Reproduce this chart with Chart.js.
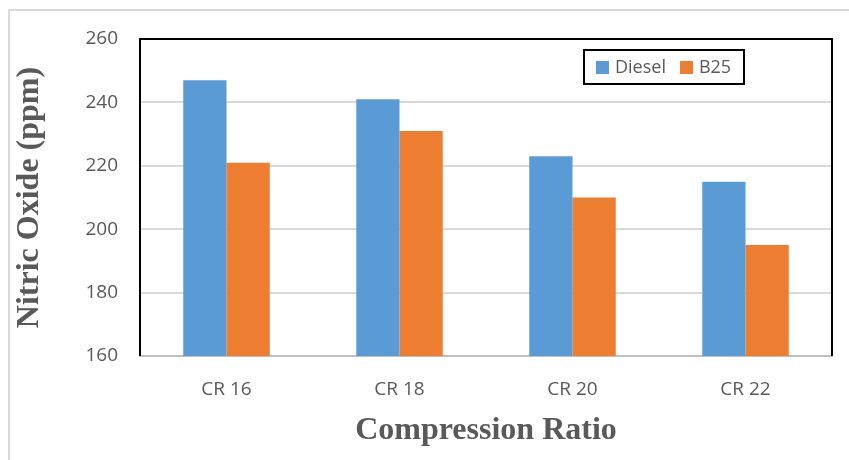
<!DOCTYPE html>
<html>
<head>
<meta charset="utf-8">
<script src="https://cdn.jsdelivr.net/npm/chart.js@4/dist/chart.umd.min.js"></script>
<style>
  html, body { margin: 0; padding: 0; background: #fff; }
  #wrap { width: 849px; height: 460px; position: relative; }
</style>
</head>
<body>
<div id="wrap"><canvas id="noChart"></canvas></div>
<script>
// datos
const categories = ['CR 16', 'CR 18', 'CR 20', 'CR 22'];
const dieselValues = [247, 241, 223, 215];
const b25Values = [221, 231, 210, 195];
const yTicks = [160, 180, 200, 220, 240, 260];

const COLORS = { diesel: '#5b9bd5', b25: '#ed7d31', text: '#595959', grid: '#d9d9d9' };

// marco negro del area de trazado + borde exterior + leyenda con recuadro
const framePlugin = {
    id: 'frame',
    beforeDraw(chart) {
        const { ctx, width, height } = chart;
        ctx.save();
        ctx.fillStyle = '#fff';
        ctx.fillRect(0, 0, width, height);
        ctx.strokeStyle = '#d9d9d9';
        ctx.lineWidth = 2;
        ctx.strokeRect(9, 10, width + 20, height + 20);
        ctx.restore();
    },
    afterDraw(chart) {
        const { ctx, chartArea: a } = chart;
        ctx.save();
        ctx.strokeStyle = '#000';
        ctx.lineWidth = 2;
        ctx.beginPath();
        ctx.moveTo(a.left, a.bottom);
        ctx.lineTo(a.left, a.top);
        ctx.lineTo(a.right, a.top);
        ctx.lineTo(a.right, a.bottom);
        ctx.stroke();

        // leyenda
        const bx = 584, by = 50, bw = 160, bh = 34;
        ctx.lineWidth = 2;
        ctx.strokeRect(bx, by, bw, bh);
        ctx.font = '18px "Open Sans", sans-serif';
        ctx.textBaseline = 'middle';
        ctx.fillStyle = COLORS.text;
        let x = bx + 12;
        const cy = by + bh / 2 + 1;
        chart.data.datasets.forEach(ds => {
            ctx.fillStyle = ds.backgroundColor;
            ctx.fillRect(x, cy - 7, 13, 13);
            ctx.fillStyle = COLORS.text;
            ctx.fillText(ds.label, x + 19, cy);
            x += 19 + ctx.measureText(ds.label).width + 14;
        });
        ctx.restore();
    }
};

new Chart(document.getElementById('noChart').getContext('2d'), {
    type: 'bar',
    plugins: [framePlugin],
    data: {
        labels: categories,
        datasets: [
            { label: 'Diesel', data: dieselValues, backgroundColor: COLORS.diesel, borderWidth: 0 },
            { label: 'B25', data: b25Values, backgroundColor: COLORS.b25, borderWidth: 0 }
        ]
    },
    options: {
        responsive: true,
        maintainAspectRatio: false,
        animation: false,
        categoryPercentage: 0.5,
        barPercentage: 1.0,
        layout: { padding: { top: 39, right: 17, left: 0, bottom: 0 } },
        plugins: { legend: { display: false }, tooltip: { enabled: false } },
        scales: {
            x: {
                grid: { display: false, drawTicks: false },
                border: { color: '#bfbfbf', width: 2 },
                ticks: { color: COLORS.text, font: { family: '"Open Sans", sans-serif', size: 19 }, padding: 22 },
                title: {
                    display: true, text: 'Compression Ratio', color: COLORS.text,
                    font: { family: '"Liberation Serif", "Times New Roman", serif', size: 32, weight: 'bold' },
                    padding: { top: 0, bottom: 10 }
                },
                afterFit(scale) { scale.height = 104; }
            },
            y: {
                min: 160,
                max: 260,
                afterBuildTicks(scale) { scale.ticks = yTicks.map(v => ({ value: v })); },
                grid: { color: COLORS.grid, lineWidth: 2, drawTicks: false },
                border: { display: false },
                ticks: { color: COLORS.text, font: { family: '"Open Sans", sans-serif', size: 19 }, padding: 22 },
                title: {
                    display: true, text: 'Nitric Oxide (ppm)', color: COLORS.text,
                    font: { family: '"Liberation Serif", "Times New Roman", serif', size: 32, weight: 'bold' },
                    padding: { top: 11, bottom: 0 }
                },
                afterFit(scale) { scale.width = 140; }
            }
        }
    }
});
</script>
</body>
</html>
